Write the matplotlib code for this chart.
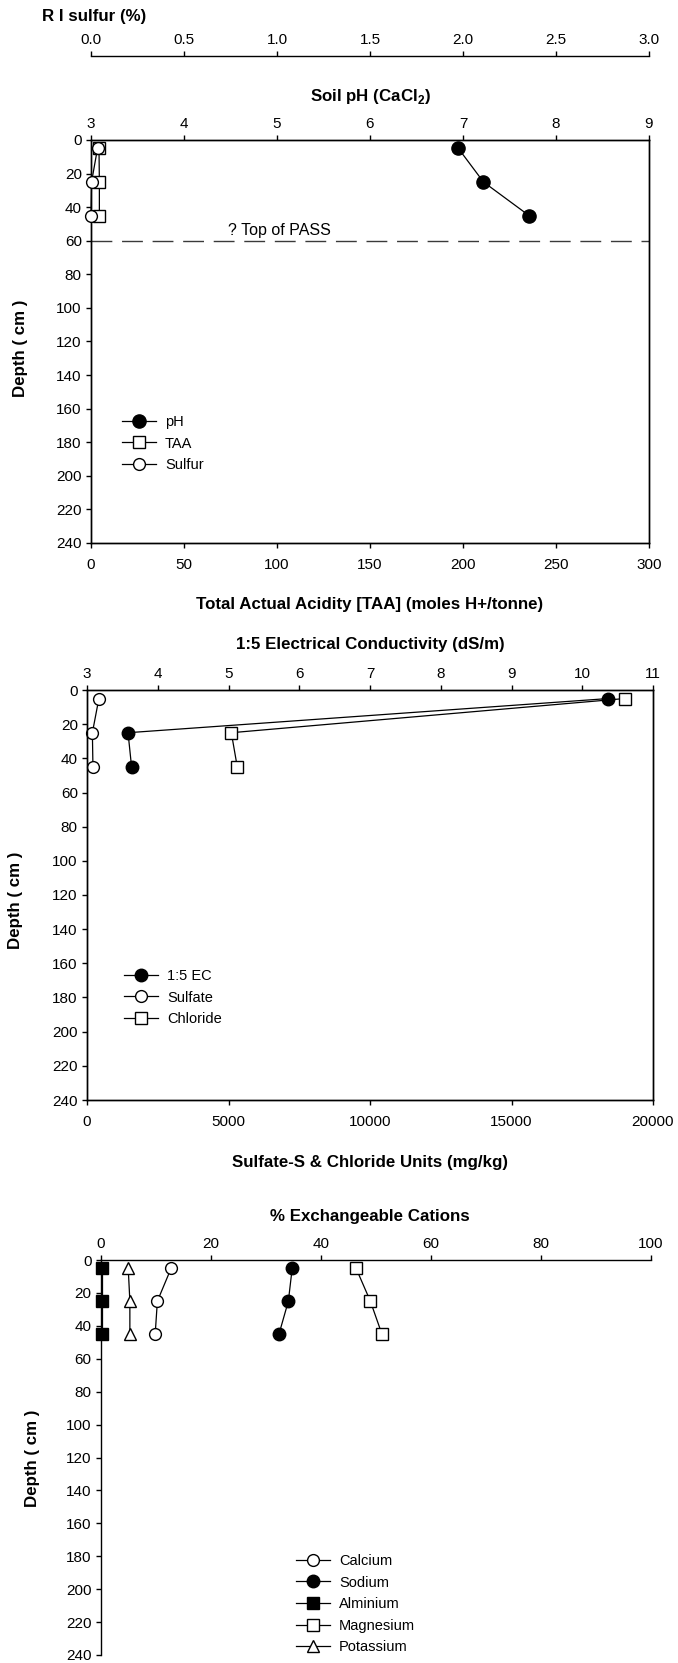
import matplotlib
matplotlib.use('Agg')
import matplotlib.pyplot as plt
from matplotlib.ticker import FormatStrFormatter
import numpy as np

plt.rcParams['font.family'] = ['Liberation Sans', 'DejaVu Sans']
plt.rcParams['mathtext.fontset'] = 'custom'
plt.rcParams['mathtext.rm'] = 'Liberation Sans'
plt.rcParams['mathtext.bf'] = 'Liberation Sans:bold'
plt.rcParams['font.size'] = 11
plt.rcParams['axes.linewidth'] = 1.0

# sample depths (cm)
depth = [5, 25, 45]

# panel 1: pH, TAA and sulfur
ph = [6.95, 7.22, 7.71]
taa = [4.3, 4.5, 4.5]
sulfur = [0.035, 0.003, 0.0]
pass_depth = 60

# panel 2: EC, sulfate and chloride
ec = [10.37, 3.58, 3.63]
sulfate = [420, 190, 210]
chloride = [19000, 5100, 5310]

# panel 3: exchangeable cations (%)
calcium = [12.8, 10.3, 9.9]
sodium = [34.8, 34.1, 32.4]
aluminium = [0.2, 0.2, 0.2]
magnesium = [46.4, 49.0, 51.1]
potassium = [5.0, 5.3, 5.3]

W, H = 678, 1663
PX = 72.0 / 100  # points per pixel
TICK_FS = 11


def box(l, t, r, b):
    return [l / W, 1 - b / H, (r - l) / W, (b - t) / H]


def style_depth(ax):
    ax.set_ylim(240, 0)
    ax.set_yticks(np.arange(0, 241, 20))
    ax.tick_params(axis='both', direction='out', length=5 * PX, width=1.0,
                   labelsize=TICK_FS, pad=3)


def top_ticks(ax):
    ax.tick_params(axis='x', direction='out', length=5 * PX, width=1.0,
                   labelsize=TICK_FS, pad=3)


def marker(ax, x, y, m, filled, ms=8.5):
    line, = ax.plot(x, y, color='black', lw=0.9, marker=m, ms=ms,
                    mfc='black' if filled else 'white', mec='black', mew=1.0,
                    clip_on=False, zorder=5)
    return line


def add_legend(ax, handles, labels, x, top):
    ax.legend(handles, labels, loc='upper left',
              bbox_to_anchor=(x / W, 1 - top / H),
              bbox_transform=ax.figure.transFigure, frameon=False,
              borderpad=0, borderaxespad=0, handlelength=2.35,
              handletextpad=0.6, labelspacing=0.52, numpoints=1,
              fontsize=10.5)


fig = plt.figure(figsize=(W / 100, H / 100), dpi=100)
bold = dict(fontsize=12.2, fontweight='bold')

# ---------------- panel 1 ----------------
ax1 = fig.add_axes(box(91, 140, 649, 543))
style_depth(ax1)
ax1.set_xlim(0, 300)
ax1.set_xticks(np.arange(0, 301, 50))
ax1.tick_params(axis='x', pad=7)
ax1.axhline(pass_depth, color='#3a3a3a', lw=1.0, dashes=(15, 7))
ax1.text(73.5, pass_depth - 1.5, '? Top of PASS', fontsize=11.5,
         ha='left', va='bottom')

ax1p = ax1.twiny()
ax1p.set_xlim(3, 9)
ax1p.set_xticks(np.arange(3, 10, 1))
top_ticks(ax1p)

ax1s = ax1.twiny()
ax1s.set_xlim(0, 3)
ax1s.set_xticks(np.arange(0, 3.01, 0.5))
ax1s.xaxis.set_major_formatter(FormatStrFormatter('%.1f'))
for side in ['bottom', 'left', 'right']:
    ax1s.spines[side].set_visible(False)
ax1s.spines['top'].set_position(('outward', 84 * PX))
top_ticks(ax1s)

h_taa = marker(ax1, taa, depth, 's', False, ms=8.5)
h_s = marker(ax1s, sulfur, depth, 'o', False)
h_ph = marker(ax1p, ph, depth, 'o', True, ms=9.5)
add_legend(ax1s, [h_ph, h_taa, h_s], ['pH', 'TAA', 'Sulfur'], 122, 415)

fig.text(42 / W, 1 - 16 / H, 'R I sulfur (%)', ha='left', va='center', **bold)
fig.text(370 / W, 1 - 97 / H, r'Soil pH (CaCl$_\mathbf{2}$)', ha='center',
         va='center', **bold)
fig.text(370 / W, 1 - 604 / H, 'Total Actual Acidity [TAA] (moles H+/tonne)',
         ha='center', va='center', **bold)
fig.text(21 / W, 1 - 348 / H, 'Depth ( cm )', rotation=90, ha='center',
         va='center', **bold)

# ---------------- panel 2 ----------------
ax2 = fig.add_axes(box(87, 690, 653, 1100))
style_depth(ax2)
ax2.set_xlim(0, 20000)
ax2.set_xticks(np.arange(0, 20001, 5000))
ax2.tick_params(axis='x', pad=7)

ax2e = ax2.twiny()
ax2e.set_xlim(3, 11)
ax2e.set_xticks(np.arange(3, 12, 1))
top_ticks(ax2e)

h_cl = marker(ax2, chloride, depth, 's', False, ms=8.5)
h_so4 = marker(ax2, sulfate, depth, 'o', False)
h_ec = marker(ax2e, ec, depth, 'o', True, ms=9)
add_legend(ax2e, [h_ec, h_so4, h_cl], ['1:5 EC', 'Sulfate', 'Chloride'],
           124, 969)

fig.text(370 / W, 1 - 644 / H, '1:5 Electrical Conductivity (dS/m)',
         ha='center', va='center', **bold)
fig.text(370 / W, 1 - 1163 / H, 'Sulfate-S & Chloride Units (mg/kg)',
         ha='center', va='center', **bold)
fig.text(16 / W, 1 - 900 / H, 'Depth ( cm )', rotation=90, ha='center',
         va='center', **bold)

# ---------------- panel 3 ----------------
ax3 = fig.add_axes(box(100.7, 1260, 651, 1655))
style_depth(ax3)
ax3.set_xlim(0, 100)
ax3.set_xticks(np.arange(0, 101, 20))
ax3.xaxis.tick_top()
ax3.spines['right'].set_visible(False)
ax3.spines['bottom'].set_visible(False)

h_ca = marker(ax3, calcium, depth, 'o', False)
h_na = marker(ax3, sodium, depth, 'o', True, ms=9)
h_al = marker(ax3, aluminium, depth, 's', True, ms=8.5)
h_mg = marker(ax3, magnesium, depth, 's', False, ms=8.5)
h_k = marker(ax3, potassium, depth, '^', False, ms=9)
add_legend(ax3, [h_ca, h_na, h_al, h_mg, h_k],
           ['Calcium', 'Sodium', 'Alminium', 'Magnesium', 'Potassium'],
           296, 1554)

fig.text(370 / W, 1 - 1216 / H, '% Exchangeable Cations', ha='center',
         va='center', **bold)
fig.text(32 / W, 1 - 1458 / H, 'Depth ( cm )', rotation=90, ha='center',
         va='center', **bold)

fig.savefig('out.png', dpi=100)
